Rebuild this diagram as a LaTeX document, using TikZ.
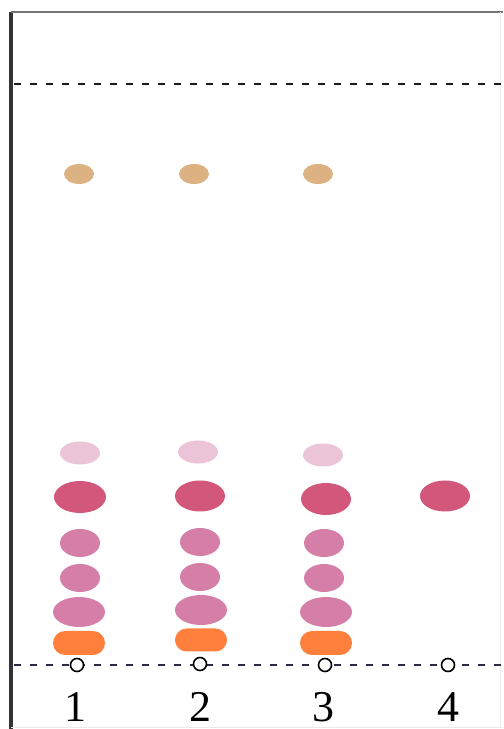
\documentclass[tikz,border=0pt]{standalone}
\usepackage{fontspec}
\setmainfont{Liberation Serif}
\usepackage{tikz}
\usetikzlibrary{positioning, shapes.geometric, shapes.misc}
\definecolor{spottan}{HTML}{DDB283}
\definecolor{spotpale}{HTML}{EBC4D8}
\definecolor{spotred}{HTML}{D3577A}
\definecolor{spotmauve}{HTML}{D57FA8}
\definecolor{spotorange}{HTML}{FF7F3D}
\definecolor{linenavy}{HTML}{2C2C46}
\tikzset{
	spot/.style 2 args={ellipse, fill=#1, inner sep=0pt, minimum width=#2}
}
\tikzset{
	frontline/.style={line width=1.5pt, dash pattern=on 0.15cm off 0.17cm}
}
\tikzset{
	origin/.style={circle, draw=black, fill=white, line width=0.9pt, inner sep=0pt, minimum size=0.26cm}
}
\tikzset{
	lanelabel/.style={font=\fontsize{25}{28}\selectfont, inner sep=0pt}
}
\begin{document}
\begin{tikzpicture}

			\useasboundingbox (0,0) rectangle (10.06,14.58);

			% plate edges
			\coordinate (tl) at (0.22,14.34);
			\coordinate (tr) at (10.06,14.34);
			\coordinate (bl) at (0.22,0);
			\draw[line width=2pt, black!80] (bl) -- (tl);
			\draw[line width=0.6pt, black!55] (tl) -- (tr);
			\draw[line width=0.4pt, black!8] (10.0,0.04) -- (10.0,14.34) (0.22,0.04) -- (10.06,0.04);

			% solvent front and start line
			\coordinate (fA) at (0.28,12.9);
			\coordinate (fB) at (10.06,12.9);
			\coordinate (bA) at (0.28,1.28);
			\coordinate (bB) at (10.06,1.28);
			\draw[frontline, black!90] (fA) -- (fB);
			\draw[frontline, linenavy] (bA) -- (bB);

			\begin{scope}
				\node[origin] (o1) at (1.54,1.28) {};
				\node[origin] (o2) at (4.0,1.3) {};
				\node[origin] (o3) at (6.5,1.28) {};
				\node[origin] (o4) at (8.96,1.28) {};

				\node[lanelabel] (l1) at (1.5,0.44) {1};
				\node[lanelabel] (l2) at (4.0,0.44) {2};
				\node[lanelabel] (l3) at (6.46,0.44) {3};
				\node[lanelabel] (l4) at (8.96,0.44) {4};
			\end{scope}

			% lane 1
			\begin{scope}
				\node[spot={spottan}{0.6cm}, minimum height=0.4cm] (t1) at (1.58,11.1) {};
				\node[spot={spotpale}{0.8cm}, minimum height=0.46cm] (p1) at (1.6,5.52) {};
				\node[spot={spotred}{1.04cm}, minimum height=0.64cm] (r1) at (1.6,4.64) {};
				\node[spot={spotmauve}{0.8cm}, minimum height=0.56cm] (m1) at (1.6,3.72) {};
				\node[spot={spotmauve}{0.8cm}, minimum height=0.56cm] (n1) at (1.6,3.02) {};
				\node[spot={spotmauve}{1.04cm}, minimum height=0.6cm] (k1) at (1.58,2.34) {};
				\node[rounded rectangle, fill=spotorange, inner sep=0pt, minimum width=1.04cm, minimum height=0.48cm] (c1) at (1.58,1.72) {};
			\end{scope}

			% lane 2
			\begin{scope}
				\node[spot={spottan}{0.6cm}, minimum height=0.4cm] (t2) at (3.88,11.1) {};
				\node[spot={spotpale}{0.8cm}, minimum height=0.46cm] (p2) at (3.96,5.54) {};
				\node[spot={spotred}{1.0cm}, minimum height=0.62cm] (r2) at (4.0,4.66) {};
				\node[spot={spotmauve}{0.8cm}, minimum height=0.56cm] (m2) at (4.0,3.74) {};
				\node[spot={spotmauve}{0.8cm}, minimum height=0.56cm] (n2) at (4.0,3.04) {};
				\node[spot={spotmauve}{1.04cm}, minimum height=0.6cm] (k2) at (4.02,2.38) {};
				\node[rounded rectangle, fill=spotorange, inner sep=0pt, minimum width=1.04cm, minimum height=0.46cm] (c2) at (4.02,1.78) {};
			\end{scope}

			% lane 3
			\begin{scope}
				\node[spot={spottan}{0.6cm}, minimum height=0.4cm] (t3) at (6.36,11.1) {};
				\node[spot={spotpale}{0.8cm}, minimum height=0.46cm] (p3) at (6.46,5.48) {};
				\node[spot={spotred}{1.0cm}, minimum height=0.64cm] (r3) at (6.52,4.6) {};
				\node[spot={spotmauve}{0.8cm}, minimum height=0.56cm] (m3) at (6.48,3.72) {};
				\node[spot={spotmauve}{0.8cm}, minimum height=0.56cm] (n3) at (6.48,3.02) {};
				\node[spot={spotmauve}{1.04cm}, minimum height=0.6cm] (k3) at (6.52,2.34) {};
				\node[rounded rectangle, fill=spotorange, inner sep=0pt, minimum width=1.04cm, minimum height=0.48cm] (c3) at (6.52,1.72) {};
			\end{scope}

			% lane 4
			\node[spot={spotred}{1.0cm}, minimum height=0.62cm] (r4) at (8.9,4.66) {};

		\end{tikzpicture}
\end{document}
